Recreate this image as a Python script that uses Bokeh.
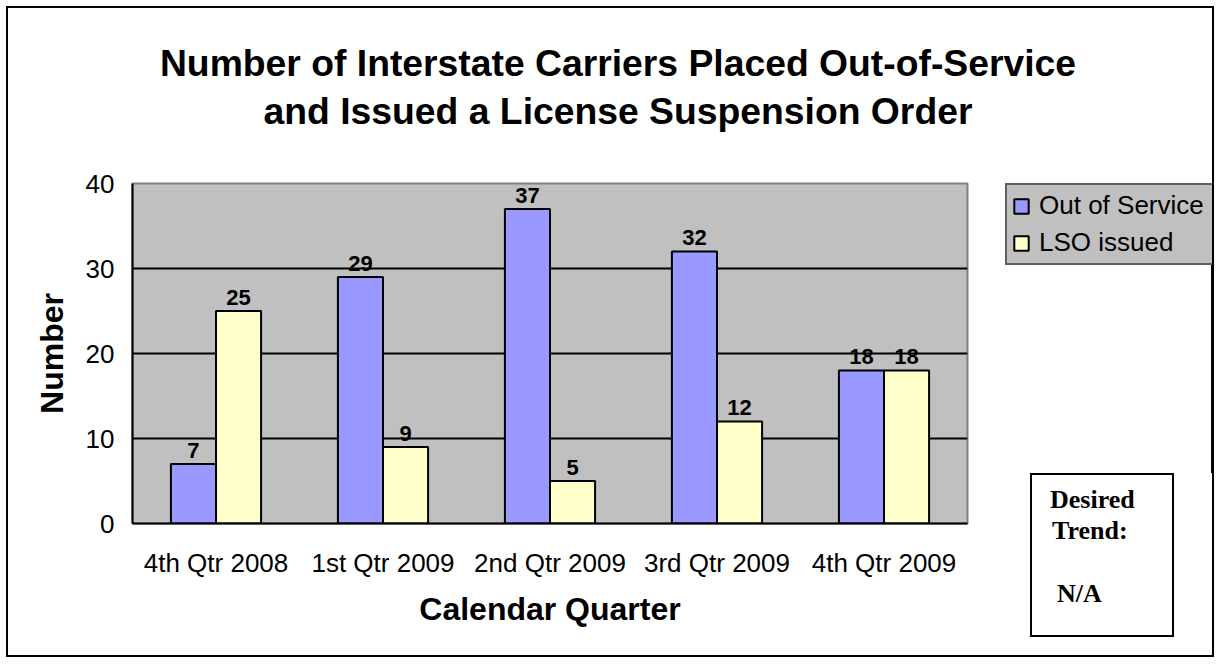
from bokeh.plotting import figure
from bokeh.layouts import column, row
from bokeh.models import (ColumnDataSource, FactorRange, Range1d, Legend,
                          LegendItem, FixedTicker, Div)
from bokeh.transform import dodge
from bokeh.core.properties import value
from bokeh.embed import file_html
from bokeh.resources import INLINE

# ---------------- data ----------------
quarters = ["4th Qtr 2008", "1st Qtr 2009", "2nd Qtr 2009", "3rd Qtr 2009", "4th Qtr 2009"]
out_of_service = [7, 29, 37, 32, 18]
lso_issued = [25, 9, 5, 12, 18]
series_names = ["Out of Service", "LSO issued"]
y_ticks = [0, 10, 20, 30, 40]
title_lines = ["Number of Interstate Carriers Placed Out-of-Service",
               "and Issued a License Suspension Order"]
x_title = "Calendar Quarter"
y_title = "Number"
note_lines = ["Desired", "Trend:", "N/A"]

# ---------------- layout constants (px) ----------------
TOTAL_W, TOTAL_H = 1204, 647          # inside the outer border
TITLE_H = 150
PW = 975                              # main figure width
PH = TOTAL_H - TITLE_H                # main figure height (497)
QW = TOTAL_W - PW                     # right column width (229)
QH = 315                              # legend figure height
NH = PH - QH                          # note box area height
FL, FT, FR, FB = 124, 25, 959, 365    # frame edges inside main figure
YMAX = 40

SANS = value("Liberation Sans")
BLUE, YELLOW, GRAY = "#9999FF", "#FFFFCC", "#C0C0C0"

# ---------------- title ----------------
title_div = Div(
    text=("<div style=\"font-family:'Liberation Sans',Arial,sans-serif;font-weight:bold;"
          "font-size:37.3px;line-height:48px;text-align:center;color:black;"
          "padding-top:31px;position:relative;left:8px;width:%dpx;\">" % TOTAL_W
          + "<br>".join(title_lines) + "</div>"),
    width=TOTAL_W, height=TITLE_H, margin=0)

# ---------------- main chart ----------------
src = ColumnDataSource(dict(
    q=quarters,
    oos=out_of_service,
    lso=lso_issued,
    oos_t=[str(v) for v in out_of_service],
    lso_t=[str(v) for v in lso_issued],
))

p = figure(width=PW, height=PH,
           x_range=FactorRange(*quarters, range_padding=0),
           y_range=Range1d(0, YMAX),
           output_backend="svg", toolbar_location=None,
           min_border_left=FL, min_border_top=FT,
           min_border_right=PW - FR, min_border_bottom=PH - FB)
p.background_fill_color = GRAY
p.border_fill_color = "white"
p.outline_line_color = "#808080"
p.outline_line_width = 2

p.xgrid.visible = False
p.ygrid.ticker = FixedTicker(ticks=[t for t in y_ticks if 0 < t < YMAX])
p.ygrid.grid_line_color = "black"
p.ygrid.grid_line_width = 2

p.yaxis.ticker = FixedTicker(ticks=y_ticks)
p.yaxis.major_tick_out = 0
p.yaxis.major_tick_in = 0
p.yaxis.minor_tick_out = 0
p.yaxis.minor_tick_in = 0
p.yaxis.axis_line_color = "black"
p.yaxis.axis_line_width = 2
p.yaxis.major_label_text_font = "Liberation Sans"
p.yaxis.major_label_text_font_size = "26px"
p.yaxis.major_label_text_color = "black"
p.yaxis.major_label_standoff = 18
p.yaxis.axis_label = y_title
p.yaxis.axis_label_text_font = "Liberation Sans"
p.yaxis.axis_label_text_font_style = "bold"
p.yaxis.axis_label_text_font_size = "32px"
p.yaxis.axis_label_text_color = "black"
p.yaxis.axis_label_standoff = 13

p.xaxis.major_tick_out = 0
p.xaxis.major_tick_in = 0
p.xaxis.axis_line_color = "black"
p.xaxis.axis_line_width = 2
p.xaxis.major_label_text_font = "Liberation Sans"
p.xaxis.major_label_text_font_size = "26px"
p.xaxis.major_label_text_color = "black"
p.xaxis.major_label_standoff = 24
p.xaxis.axis_label = x_title
p.xaxis.axis_label_text_font = "Liberation Sans"
p.xaxis.axis_label_text_font_style = "bold"
p.xaxis.axis_label_text_font_size = "32px"
p.xaxis.axis_label_text_color = "black"
p.xaxis.axis_label_standoff = 10

BW = 0.27
p.vbar(x=dodge("q", -BW / 2, range=p.x_range), top="oos", width=BW, source=src,
       fill_color=BLUE, line_color="black", line_width=2)
p.vbar(x=dodge("q", BW / 2, range=p.x_range), top="lso", width=BW, source=src,
       fill_color=YELLOW, line_color="black", line_width=2)

for col, off in (("oos", -BW / 2), ("lso", BW / 2)):
    p.text(x=dodge("q", off, range=p.x_range), y=col, text=col + "_t", source=src,
           text_font=SANS, text_font_style="bold", text_font_size="22px",
           text_align="center", text_baseline="alphabetic", y_offset=-14,
           text_color="black")

# ---------------- legend figure (right column, top) ----------------
q = figure(width=QW, height=QH, x_range=Range1d(0, 1), y_range=Range1d(0, 1),
           output_backend="svg", toolbar_location=None,
           x_axis_location=None, y_axis_location=None,
           min_border_left=22, min_border_right=0,
           min_border_top=FT, min_border_bottom=0)
q.grid.visible = False
q.outline_line_color = None
q.background_fill_color = "white"
q.border_fill_color = "white"

# legend proxies: same series, drawn outside this panel's ranges (only their swatches show)
k1 = q.vbar(x="oos", top="oos", width=0.5, source=src,
            fill_color=BLUE, line_color="black", line_width=2)
k2 = q.vbar(x="lso", top="lso", width=0.5, source=src,
            fill_color=YELLOW, line_color="black", line_width=2)

legend = Legend(items=[LegendItem(label=series_names[0], renderers=[k1]),
                       LegendItem(label=series_names[1], renderers=[k2])],
                location="top_left")
legend.background_fill_color = GRAY
legend.background_fill_alpha = 1
legend.border_line_color = "black"
legend.border_line_width = 2
legend.label_text_font = "Liberation Sans"
legend.label_text_font_size = "26px"
legend.label_text_color = "black"
legend.glyph_width = 18
legend.glyph_height = 18
legend.padding = 5
legend.spacing = 6
legend.label_height = 30
legend.label_width = 168
legend.label_standoff = 9
legend.margin = 0
q.add_layout(legend)

# ---------------- note box (right column, bottom) ----------------
serif = ("font-family:'Liberation Serif','Times New Roman',serif;font-weight:bold;"
         "font-size:26px;line-height:31px;color:black;")
note_div = Div(
    text=("<div style=\"position:relative;box-sizing:border-box;margin-left:47px;"
          "width:144px;height:164px;border:2px solid black;background:white;%s\">" % serif
          + "<div style=\"position:absolute;left:18px;top:9px;white-space:nowrap;\">"
          + note_lines[0] + "<br><span style=\"padding-left:2px\">" + note_lines[1]
          + "</span></div>"
          + "<div style=\"position:absolute;left:25px;top:103px;\">" + note_lines[2] + "</div>"
          + "</div>"),
    width=QW, height=NH, margin=0)

layout = column(title_div, row(p, column(q, note_div, spacing=0), spacing=0), spacing=0)
layout.margin = (6, 0, 0, 6)
layout.styles = {"border": "2px solid black"}

open("out.html", "w").write(file_html(layout, INLINE))
